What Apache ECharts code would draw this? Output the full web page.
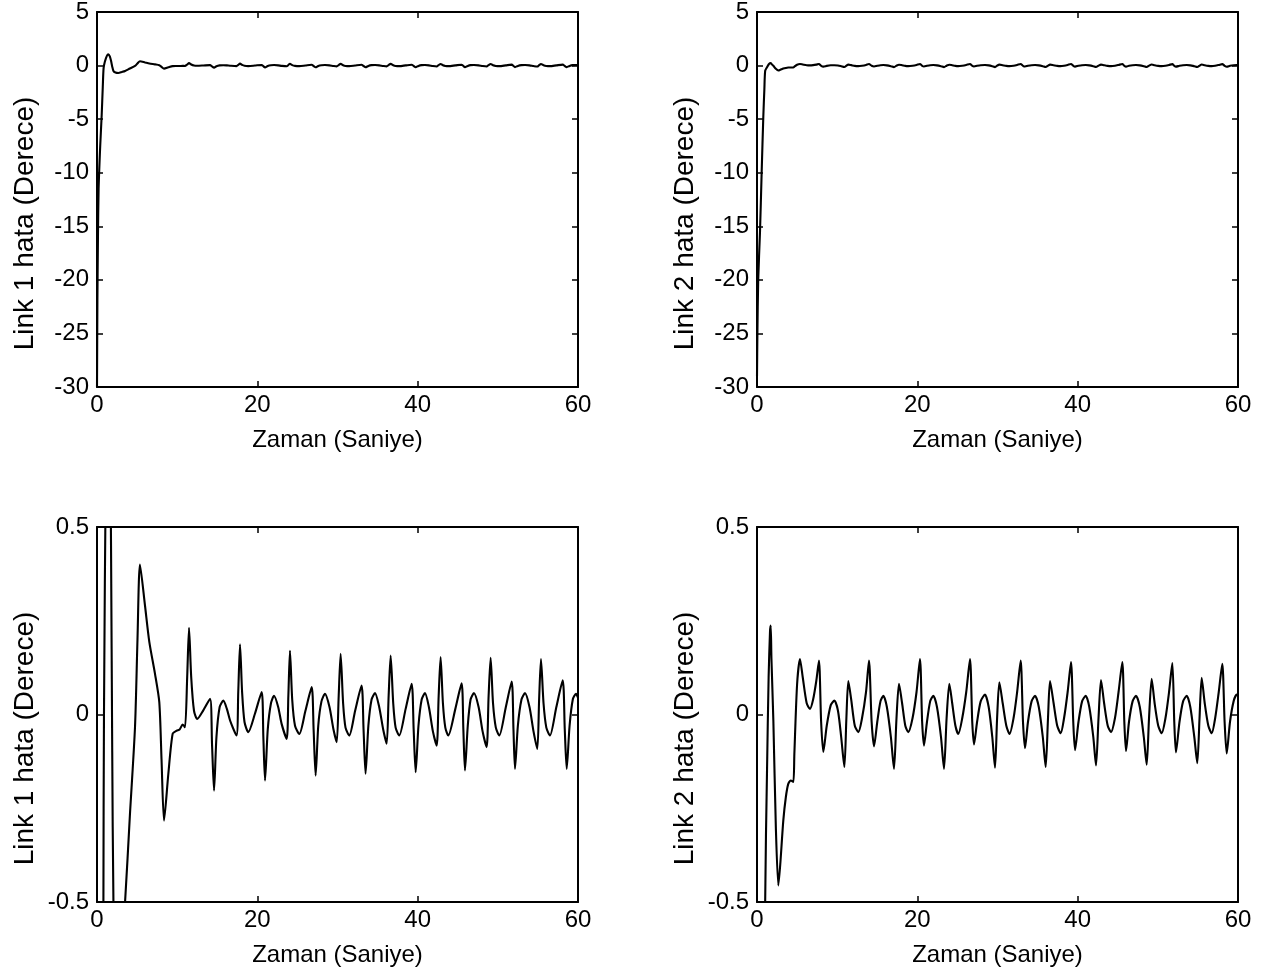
<!DOCTYPE html>
<html>
<head>
<meta charset="utf-8">
<script src="https://cdn.jsdelivr.net/npm/echarts@6/dist/echarts.min.js"></script>
<style>
html,body{margin:0;padding:0;background:#fff;}
#chart{width:1284px;height:977px;}
</style>
</head>
<body>
<div id="chart"></div>
<script>
// ---- data (time in seconds, error in degrees) ----
var link1Time = [0,0.05,0.12,0.2,0.4,0.58,0.72,0.8,0.87,1.12,1.41,1.6,1.75,1.9,2.05,2.3,2.66,3.1,3.5,4.1,4.74,5.05,5.36,5.99,6.53,7.23,7.77,8.05,8.36,8.9,9.44,9.94,10.3,10.69,10.98,11.25,11.48,11.75,12.1,12.5,13.26,14.1,14.35,14.6,14.9,15.3,15.76,16.2,16.6,17.4,17.62,17.84,18.1,18.4,18.87,19.7,20.54,20.75,20.96,21.3,21.7,22.08,22.6,23.03,23.66,23.87,24.07,24.35,24.7,25.24,26.0,26.78,27.02,27.27,27.6,28.0,28.44,29.0,29.5,29.9,30.15,30.39,30.7,31.0,31.47,32.2,33.0,33.25,33.5,33.85,34.25,34.68,35.2,35.7,36.13,36.38,36.63,36.95,37.25,37.7,38.5,39.25,39.5,39.75,40.1,40.5,40.91,41.4,41.9,42.37,42.62,42.86,43.15,43.45,43.82,44.7,45.48,45.7,45.9,46.25,46.6,47.02,47.6,48.1,48.6,48.85,49.1,49.4,49.75,50.18,51.0,51.73,51.95,52.14,52.5,52.95,53.39,53.95,54.45,54.92,55.15,55.38,55.7,56.05,56.5,57.3,58.09,58.35,58.59,58.95,59.35,59.75,60];
var link1Error = [-30,-22,-16,-11.5,-7.5,-4.7,-2.0,-0.5,0.0,0.7,1.05,0.85,0.45,-0.1,-0.5,-0.65,-0.7,-0.6,-0.5,-0.27,-0.034,0.2,0.40,0.29,0.193,0.109,0.033,-0.12,-0.283,-0.158,-0.051,-0.043,-0.04,-0.027,-0.034,0.1,0.231,0.1,0.01,-0.012,0.011,0.042,-0.08,-0.203,-0.06,0.02,0.037,0.015,-0.016,-0.056,0.06,0.187,0.06,-0.02,-0.047,0.002,0.06,-0.06,-0.176,-0.04,0.03,0.05,0.02,-0.025,-0.065,0.05,0.17,0.04,-0.03,-0.052,0.01,0.073,-0.04,-0.163,-0.03,0.035,0.055,0.02,-0.04,-0.074,0.05,0.162,0.03,-0.035,-0.056,0.01,0.077,-0.04,-0.158,-0.03,0.04,0.057,0.02,-0.04,-0.078,0.05,0.157,0.03,-0.035,-0.056,0.015,0.082,-0.04,-0.154,-0.03,0.04,0.057,0.02,-0.045,-0.083,0.05,0.153,0.03,-0.035,-0.056,0.015,0.083,-0.04,-0.149,-0.03,0.04,0.057,0.02,-0.045,-0.087,0.05,0.151,0.03,-0.035,-0.056,0.02,0.088,-0.04,-0.145,-0.03,0.04,0.057,0.02,-0.045,-0.092,0.04,0.148,0.03,-0.035,-0.056,0.02,0.091,-0.04,-0.145,-0.03,0.04,0.055,0.045];

var link2Time = [0,0.05,0.15,0.37,0.58,0.79,0.92,1.02,1.25,1.45,1.62,1.71,1.8,2.04,2.35,2.66,2.9,3.28,3.6,3.9,4.2,4.53,4.66,5.0,5.36,5.7,6.2,6.61,7.0,7.4,7.73,8.0,8.27,8.7,9.2,9.65,10.1,10.5,10.9,11.15,11.39,11.75,12.2,12.64,13.1,13.6,13.97,14.3,14.6,15.0,15.4,15.76,16.2,16.7,17.09,17.4,17.71,18.1,18.5,18.87,19.4,19.9,20.33,20.6,20.83,21.2,21.6,21.99,22.45,22.95,23.33,23.65,23.99,24.35,24.75,25.11,25.6,26.1,26.57,26.85,27.07,27.45,27.9,28.44,28.9,29.35,29.69,29.95,30.23,30.65,31.1,31.5,32.0,32.45,32.89,33.18,33.43,33.8,34.25,34.68,35.15,35.65,36.01,36.3,36.55,37.0,37.45,37.88,38.3,38.75,39.17,39.45,39.67,40.1,40.55,41.0,41.45,41.95,42.29,42.6,42.91,43.3,43.75,44.16,44.65,45.1,45.57,45.82,46.03,46.4,46.85,47.27,47.75,48.25,48.61,48.9,49.23,49.6,50.05,50.48,50.95,51.4,51.81,52.05,52.26,52.7,53.15,53.6,54.05,54.55,54.92,55.2,55.47,55.85,56.3,56.72,57.15,57.6,58.04,58.33,58.59,59.0,59.45,59.84,60];
var link2Error = [-29,-25,-20,-15.6,-10,-4.7,-2.2,-0.5,-0.15,0.1,0.22,0.237,0.15,-0.016,-0.3,-0.456,-0.4,-0.283,-0.22,-0.185,-0.176,-0.18,-0.105,0.08,0.148,0.1,0.03,0.015,0.04,0.09,0.144,-0.02,-0.1,-0.03,0.025,0.037,0.01,-0.06,-0.14,-0.01,0.089,0.04,-0.03,-0.047,-0.01,0.06,0.144,-0.02,-0.085,-0.02,0.035,0.05,0.02,-0.06,-0.145,-0.01,0.082,0.03,-0.03,-0.047,-0.01,0.06,0.148,-0.02,-0.083,-0.02,0.035,0.05,0.02,-0.06,-0.145,-0.01,0.082,0.03,-0.03,-0.052,-0.01,0.06,0.148,-0.02,-0.08,-0.02,0.035,0.053,0.02,-0.06,-0.142,-0.01,0.086,0.03,-0.03,-0.052,-0.01,0.06,0.144,-0.02,-0.09,-0.02,0.035,0.05,0.02,-0.06,-0.14,-0.01,0.089,0.03,-0.03,-0.05,-0.01,0.06,0.14,-0.02,-0.095,-0.02,0.035,0.05,0.02,-0.06,-0.136,-0.01,0.092,0.03,-0.03,-0.047,-0.01,0.06,0.14,-0.02,-0.098,-0.02,0.035,0.05,0.02,-0.06,-0.134,-0.01,0.095,0.03,-0.03,-0.05,-0.01,0.06,0.137,-0.02,-0.101,-0.02,0.035,0.05,0.02,-0.06,-0.13,-0.01,0.098,0.03,-0.03,-0.05,-0.01,0.06,0.135,-0.02,-0.104,-0.02,0.035,0.053,0.05];

var xTicks = [0, 20, 40, 60];
var yTicksFull = [5, 0, -5, -10, -15, -20, -25, -30];
var yTicksZoom = [0.5, 0, -0.5];
var yNames = ['Link 1 hata (Derece)', 'Link 2 hata (Derece)'];
var xName = 'Zaman (Saniye)';

function pairs(t, v) {
  var out = [];
  for (var i = 0; i < t.length; i++) out.push([t[i], v[i]]);
  return out;
}
var link1 = pairs(link1Time, link1Error);
var link2 = pairs(link2Time, link2Error);

var FONT = 'Liberation Sans';
var grids = [
  {left: 97, top: 12, width: 481, height: 375},
  {left: 757, top: 12, width: 481, height: 375},
  {left: 97, top: 527, width: 481, height: 375},
  {left: 757, top: 527, width: 481, height: 375}
];
var xAxes = [], yAxes = [], series = [];
var tickStyle = {show: true, inside: true, length: 6, lineStyle: {color: '#000', width: 1.5}};
var lineStyle = {show: true, onZero: false, lineStyle: {color: '#000', width: 2}};

grids.forEach(function (g, i) {
  var zoom = i >= 2;
  var yt = zoom ? yTicksZoom : yTicksFull;
  var ymin = yt[yt.length - 1], ymax = yt[0], yint = yt[0] - yt[1];
  xAxes.push({
    gridIndex: i, type: 'value', position: 'bottom',
    min: xTicks[0], max: xTicks[xTicks.length - 1], interval: xTicks[1] - xTicks[0],
    axisLine: lineStyle, axisTick: tickStyle, splitLine: {show: false},
    axisLabel: {color: '#000', fontFamily: FONT, fontSize: 24, margin: 6},
    name: xName, nameLocation: 'middle', nameGap: 41,
    nameTextStyle: {color: '#000', fontFamily: FONT, fontSize: 24}
  });
  xAxes.push({
    gridIndex: i, type: 'value', position: 'top',
    min: xTicks[0], max: xTicks[xTicks.length - 1], interval: xTicks[1] - xTicks[0],
    axisLine: lineStyle, axisTick: tickStyle, splitLine: {show: false},
    axisLabel: {show: false}
  });
  yAxes.push({
    gridIndex: i, type: 'value', position: 'left',
    min: ymin, max: ymax, interval: yint,
    axisLine: lineStyle, axisTick: tickStyle, splitLine: {show: false},
    axisLabel: {color: '#000', fontFamily: FONT, fontSize: 24, margin: 8},
    name: yNames[i % 2], nameLocation: 'middle', nameGap: 58,
    nameTextStyle: {color: '#000', fontFamily: FONT, fontSize: 28, padding: [0, 48, 0, 0]}
  });
  yAxes.push({
    gridIndex: i, type: 'value', position: 'right',
    min: ymin, max: ymax, interval: yint,
    axisLine: lineStyle, axisTick: tickStyle, splitLine: {show: false},
    axisLabel: {show: false}
  });
  series.push({
    type: 'line',
    xAxisIndex: 2 * i, yAxisIndex: 2 * i,
    data: (i % 2 === 0) ? link1 : link2,
    showSymbol: false, symbol: 'none', clip: true,
    smooth: 0.25,
    lineStyle: {color: '#000', width: 2.1},
    silent: true
  });
});

var chart = echarts.init(document.getElementById('chart'), null, {renderer: 'canvas'});
chart.setOption({
  backgroundColor: '#fff',
  animation: false,
  grid: grids,
  xAxis: xAxes,
  yAxis: yAxes,
  series: series
});
</script>
</body>
</html>
